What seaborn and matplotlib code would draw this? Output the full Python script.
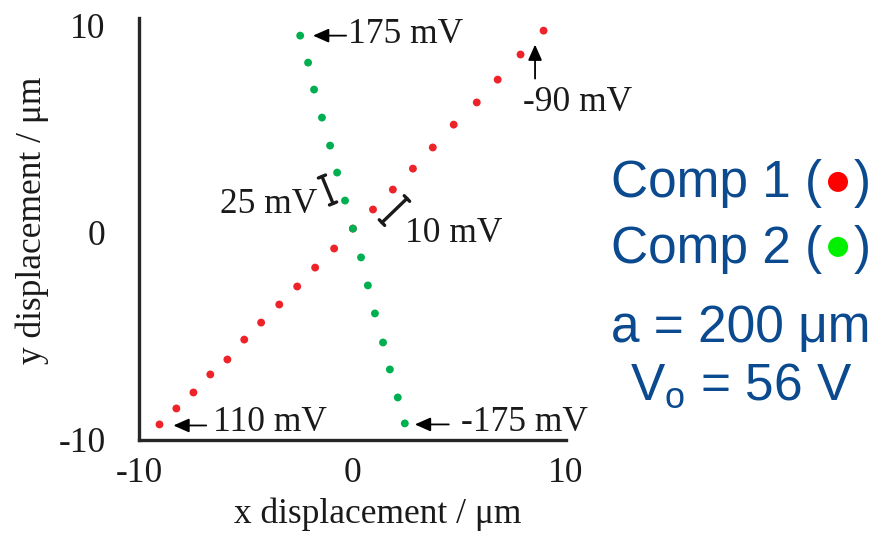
import matplotlib
matplotlib.use("Agg")
import matplotlib.pyplot as plt
import seaborn as sns
import pandas as pd
from matplotlib.offsetbox import TextArea, DrawingArea, HPacker, AnchoredOffsetbox
from matplotlib.patches import Circle

# ---- data ----
comp1_x = [-9.04, -8.25, -7.45, -6.66, -5.86, -5.07, -4.28, -3.43, -2.59, -1.75, -0.86,
           0.02, 0.96, 1.89, 2.83, 3.76, 4.74, 5.82, 6.80, 7.87, 8.95]
comp1_y = [-9.25, -8.48, -7.71, -6.84, -6.12, -5.16, -4.34, -3.47, -2.60, -1.69, -0.77,
           0.19, 1.11, 2.07, 3.08, 4.10, 5.20, 6.27, 7.37, 8.58, 9.73]
comp2_x = [-2.45, -2.08, -1.80, -1.43, -1.05, -0.72, -0.35, 0.02, 0.40, 0.72, 1.05,
           1.43, 1.75, 2.12, 2.45]
comp2_y = [9.49, 8.19, 6.89, 5.54, 4.19, 2.89, 1.54, 0.19, -1.20, -2.55, -3.90,
           -5.30, -6.60, -7.95, -9.20]
x_ticks = [-10, 0, 10]
y_ticks = [-10, 0, 10]
x_label = "x displacement / μm"
y_label = "y displacement / μm"
legend_lines = ["Comp 1 (", "Comp 2 ("]
param_lines = ["a = 200 μm", r"V$_\mathregular{o}$ = 56 V"]

RED = "#EE2229"
GREEN = "#00B050"
LEG_RED = "#FF0000"
LEG_GREEN = "#00F000"
BLUE = "#0B4A8E"
SERIF = ["Liberation Serif", "DejaVu Serif"]
SANS = ["Liberation Sans", "DejaVu Sans"]
TFS = 25.5

sns.set_style("white")
plt.rcParams["font.family"] = SERIF
plt.rcParams["mathtext.fontset"] = "custom"
plt.rcParams["mathtext.rm"] = "Liberation Sans"
plt.rcParams["mathtext.it"] = "Liberation Sans:italic"

df = pd.concat([
    pd.DataFrame({"x": comp1_x, "y": comp1_y, "comp": "Comp 1"}),
    pd.DataFrame({"x": comp2_x, "y": comp2_y, "comp": "Comp 2"}),
])

fig = plt.figure(figsize=(8.81, 5.40), dpi=100)
ax = fig.add_axes([139 / 881, 1 - 440 / 540, 427 / 881, 422 / 540])
sns.scatterplot(data=df, x="x", y="y", hue="comp", palette={"Comp 1": RED, "Comp 2": GREEN},
                s=32, linewidth=0, legend=False, ax=ax)

ax.set_xlim(-10, 10)
ax.set_ylim(-10, 10.34)
ax.set_xticks(x_ticks)
ax.set_yticks(y_ticks)
ax.set_xticklabels([str(t) for t in x_ticks])
ax.set_yticklabels([str(t) for t in y_ticks])
ax.tick_params(axis="both", length=0, labelsize=TFS, colors="#1a1a1a")
ax.tick_params(axis="x", pad=12)
ax.tick_params(axis="y", pad=24)
for s in ["top", "right"]:
    ax.spines[s].set_visible(False)
for s in ["left", "bottom"]:
    ax.spines[s].set_linewidth(2.4)
    ax.spines[s].set_color("#262626")

ax.set_xlabel(x_label, fontsize=TFS, color="#1a1a1a", va="center")
ax.set_ylabel(y_label, fontsize=TFS, color="#1a1a1a", va="center")
ax.xaxis.set_label_coords(0.56, -0.176)
ax.yaxis.set_label_coords(-0.251, 0.52)

# ---- annotations ----
arrow_kw = dict(arrowstyle="-|>,head_length=0.95,head_width=0.42", lw=1.3, color="black",
                shrinkA=0, shrinkB=0)
ax.annotate("", xy=(-1.85, 9.49), xytext=(-0.30, 9.49), arrowprops=arrow_kw)
ax.text(-0.21, 9.55, "175 mV", fontsize=TFS, ha="left", va="center", color="#1a1a1a")

ax.annotate("", xy=(8.55, 9.06), xytext=(8.55, 7.42), arrowprops=arrow_kw)
ax.text(10.54, 6.27, "-90 mV", fontsize=TFS, ha="center", va="center", color="#1a1a1a",
        clip_on=False)

ax.annotate("", xy=(-8.39, -9.30), xytext=(-6.85, -9.30), arrowprops=arrow_kw)
ax.text(-6.52, -9.16, "110 mV", fontsize=TFS, ha="left", va="center", color="#1a1a1a")

ax.annotate("", xy=(2.92, -9.25), xytext=(4.51, -9.25), arrowprops=arrow_kw)
ax.text(5.07, -9.16, "-175 mV", fontsize=TFS, ha="left", va="center", color="#1a1a1a",
        clip_on=False)

bracket_kw = dict(arrowstyle="|-|,widthA=0.28,widthB=0.28", lw=2.4, color="#1a1a1a",
                  shrinkA=0, shrinkB=0)
ax.annotate("", xy=(-1.43, 2.70), xytext=(-0.91, 1.40), arrowprops=bracket_kw)
ax.text(-1.65, 1.35, "25 mV", fontsize=TFS, ha="right", va="center", color="#1a1a1a")

ax.annotate("", xy=(1.38, 0.48), xytext=(2.55, 1.64), arrowprops=bracket_kw)
ax.text(2.45, -0.05, "10 mV", fontsize=TFS, ha="left", va="center", color="#1a1a1a")

# ---- right-hand text block ----
fs = 37
legend_colors = [LEG_RED, LEG_GREEN]
legend_y = [1 - 184 / 540, 1 - 249 / 540]
for label, col, yy in zip(legend_lines, legend_colors, legend_y):
    t1 = TextArea(label, textprops=dict(fontsize=fs, color=BLUE, family=SANS))
    da = DrawingArea(17, 20, 0, 0)
    da.add_artist(Circle((8.5, 11.5), 7.2, color=col, lw=0))
    t2 = TextArea(")", textprops=dict(fontsize=fs, color=BLUE, family=SANS))
    box = HPacker(children=[t1, da, t2], align="center", pad=0, sep=3)
    anch = AnchoredOffsetbox(loc="center", child=box, pad=0, frameon=False,
                             bbox_to_anchor=(741 / 881, yy), bbox_transform=fig.transFigure,
                             borderpad=0)
    fig.add_artist(anch)

fig.text(741 / 881, 1 - 328 / 540, param_lines[0], fontsize=fs, color=BLUE, family=SANS,
         ha="center", va="center")
fig.text(741 / 881, 1 - 386 / 540, param_lines[1], fontsize=fs, color=BLUE, family=SANS,
         ha="center", va="center")

fig.savefig("out.png", dpi=100)
